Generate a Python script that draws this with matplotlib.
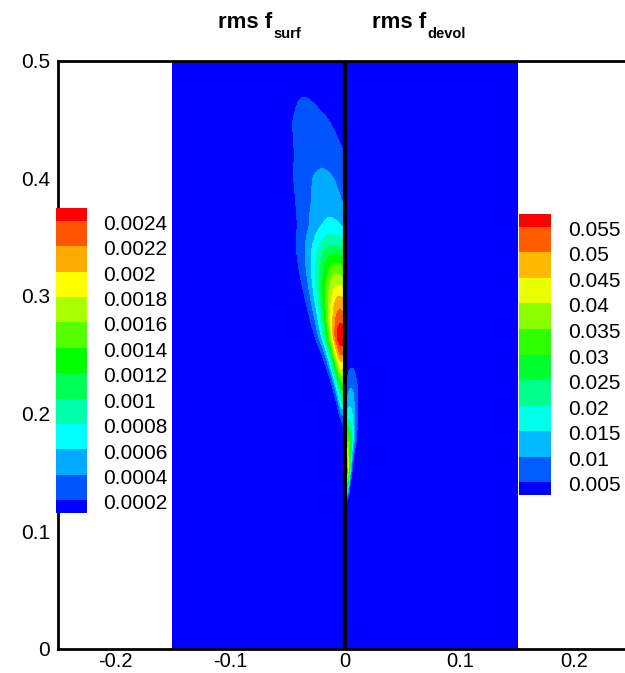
import numpy as np
import matplotlib.pyplot as plt
from matplotlib.patches import Rectangle

plt.rcParams['font.family'] = ['Liberation Sans', 'DejaVu Sans']

# legend levels
surf_levels = [0.0002, 0.0004, 0.0006, 0.0008, 0.001, 0.0012,
               0.0014, 0.0016, 0.0018, 0.002, 0.0022, 0.0024]
surf_labels = ['0.0002', '0.0004', '0.0006', '0.0008', '0.001', '0.0012',
               '0.0014', '0.0016', '0.0018', '0.002', '0.0022', '0.0024']
devol_levels = [0.005, 0.01, 0.015, 0.02, 0.025, 0.03,
                0.035, 0.04, 0.045, 0.05, 0.055]
devol_labels = ['0.005', '0.01', '0.015', '0.02', '0.025', '0.03',
                '0.035', '0.04', '0.045', '0.05', '0.055']

# rms f_surf plume: height, peak value, peak position, width
surf_y = [0.0, 0.18, 0.196, 0.22, 0.25, 0.265, 0.30, 0.33, 0.345, 0.36, 0.38,
          0.40, 0.42, 0.45, 0.475, 0.50]
surf_peak = [0, 0, 0.0003, 0.0012, 0.0022, 0.0026, 0.0020, 0.00135, 0.00095,
             0.00065, 0.0005, 0.00044, 0.00034, 0.00026, 0.00018, 0]
surf_xc = [0, 0, -0.002, -0.002, -0.003, -0.003, -0.005, -0.008, -0.010,
           -0.012, -0.016, -0.019, -0.022, -0.030, -0.038, -0.045]
surf_w = [0.002, 0.002, 0.003, 0.006, 0.011, 0.0145, 0.020, 0.024, 0.026,
          0.027, 0.028, 0.029, 0.030, 0.030, 0.02, 0.01]

# rms f_devol blob
devol_y = [0.0, 0.12, 0.128, 0.138, 0.150, 0.165, 0.18, 0.195, 0.21, 0.225, 0.238, 0.245, 0.5]
devol_peak = [0, 0, 0.006, 0.025, 0.058, 0.045, 0.032, 0.02, 0.013, 0.009, 0.0055, 0, 0]
devol_xc = [0.001, 0.001, 0.0015, 0.001, 0.0005, 0.001, 0.002, 0.003, 0.0045,
            0.0055, 0.006, 0.006, 0.006]
devol_w = [0.0015, 0.0015, 0.002, 0.0025, 0.0035, 0.0045, 0.006, 0.0065, 0.0065,
           0.0065, 0.005, 0.004, 0.004]


def rainbow(n):
    # tecplot style small rainbow: blue-cyan-green-yellow-red
    anchors = np.array([[0, 0, 1], [0, 1, 1], [0, 1, 0], [1, 1, 0], [1, 0, 0]], float)
    pos = np.linspace(0, 1, 5)
    return [tuple(np.interp(t, pos, anchors[:, c]) for c in range(3))
            for t in np.linspace(0, 1, n)]


yy = np.linspace(0, 0.5, 1001)


def profile(ky, kv, win):
    v = np.interp(yy, ky, kv)
    h = win // 2
    return np.convolve(np.pad(v, h, mode='edge'), np.ones(win) / win, mode='valid')


def field(x, ky, kp, kx, kw, win):
    p = profile(ky, kp, win)
    xc = profile(ky, kx, win)
    w = profile(ky, kw, win)
    return p[:, None] * np.exp(-((x[None, :] - xc[:, None]) / w[:, None]) ** 2)


xl = np.linspace(-0.15, 0, 601)
xr = np.linspace(0, 0.15, 601)
zl = field(xl, surf_y, surf_peak, surf_xc, surf_w, 15)
zr = field(xr, devol_y, devol_peak, devol_xc, devol_w, 7)

fig = plt.figure(figsize=(6.25, 6.73), dpi=100)
ax = fig.add_axes([58 / 625, 24 / 673, 574 / 625, 588.5 / 673])

ax.contourf(xl, yy, zl, levels=[-1] + surf_levels + [1], colors=rainbow(13))
ax.contourf(xr, yy, zr, levels=[-1] + devol_levels + [1], colors=rainbow(12))
ax.plot([0, 0], [0, 0.5], color='k', lw=3)

ax.set_xlim(-0.25, 0.25)
ax.set_ylim(0, 0.5)
ax.set_xticks([-0.2, -0.1, 0, 0.1, 0.2])
ax.set_xticklabels(['-0.2', '-0.1', '0', '0.1', '0.2'])
ax.set_yticks([0, 0.1, 0.2, 0.3, 0.4, 0.5])
ax.set_yticklabels(['0', '0.1', '0.2', '0.3', '0.4', '0.5'])
ax.tick_params(axis='x', length=0, pad=2.5, labelsize=14.5)
ax.tick_params(axis='y', length=0, pad=5.5, labelsize=15)
for s in ['left', 'top', 'bottom']:
    ax.spines[s].set_linewidth(2)
ax.spines['right'].set_visible(False)

# titles with lowered subscripts
for x0, sub in [(218, 'surf'), (372, 'devol')]:
    t = fig.text(x0 / 625, 1 - 28 / 673, 'rms f', fontsize=16, fontweight='bold',
                 ha='left', va='baseline')
    ax.annotate(sub, xy=(1, 0), xycoords=t, xytext=(1, -3.5),
                textcoords='offset points', fontsize=10.5, fontweight='bold',
                ha='left', va='baseline', annotation_clip=False)


def draw_legend(rect, colors, labels):
    lax = fig.add_axes(rect)
    n = len(colors)
    lax.set_xlim(0, 1)
    lax.set_ylim(0, n - 1)
    lax.axis('off')
    for i, c in enumerate(colors):
        lo = max(i - 0.5, 0)
        hi = min(i + 0.5, n - 1)
        lax.add_patch(Rectangle((0, lo), 1, hi - lo, facecolor=c, lw=0))
    for i, lab in enumerate(labels):
        lax.text(1.52, i + 0.5 - 0.14, lab, fontsize=15, ha='left', va='center',
                 clip_on=False)


draw_legend([56 / 625, (673 - 513) / 673, 31 / 625, 305 / 673], rainbow(13), surf_labels)
draw_legend([519 / 625, (673 - 495) / 673, 32 / 625, 281 / 673], rainbow(12), devol_labels)

fig.savefig('out.png', dpi=100)
